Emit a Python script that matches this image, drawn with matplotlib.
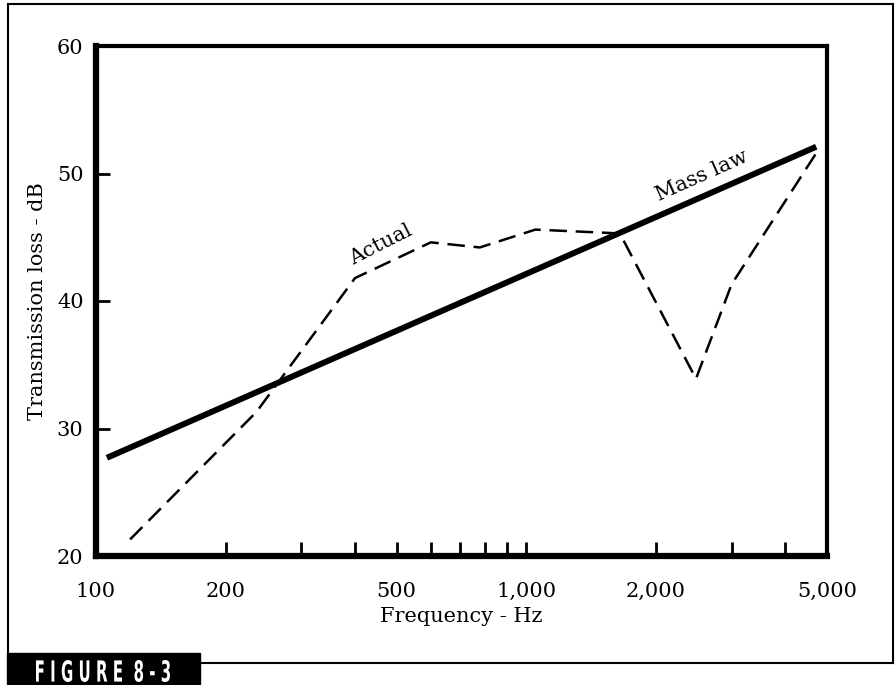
import matplotlib
matplotlib.use("Agg")
import matplotlib.pyplot as plt
from matplotlib.lines import Line2D
from matplotlib.patches import Rectangle, PathPatch
from matplotlib.textpath import TextPath
from matplotlib.font_manager import FontProperties
from matplotlib.transforms import Affine2D, IdentityTransform
from matplotlib.ticker import FixedLocator, NullFormatter

# data
mass_freq = [106, 4720]
mass_tl = [27.7, 52.1]

actual_freq = [120, 236, 400, 600, 780, 1050, 1650, 2480, 3000, 4720]
actual_tl = [21.3, 31.3, 41.8, 44.6, 44.2, 45.6, 45.3, 33.9, 41.3, 51.6]

x_major = [100, 200, 500, 1000, 2000, 5000]
x_labels = ["100", "200", "500", "1,000", "2,000", "5,000"]
x_minor = [300, 400, 600, 700, 800, 900, 3000, 4000]
y_major = [20, 30, 40, 50, 60]

W, H = 896, 685
plt.rcParams['font.family'] = ['DejaVu Serif']
fs = 15

fig = plt.figure(figsize=(W / 100, H / 100), dpi=100)
ax = fig.add_axes([96 / W, 1 - 556 / H, (827 - 96) / W, (556 - 46) / H])

ax.plot(mass_freq, mass_tl, color='black', lw=4.3, solid_capstyle='butt')
ax.plot(actual_freq, actual_tl, color='black', lw=1.8, dashes=(7, 3.5))

ax.set_xscale('log')
ax.set_xlim(100, 5000)
ax.set_ylim(20, 60)

ax.xaxis.set_major_locator(FixedLocator(x_major))
ax.set_xticklabels(x_labels)
ax.xaxis.set_minor_locator(FixedLocator(x_minor))
ax.xaxis.set_minor_formatter(NullFormatter())
ax.set_yticks(y_major)

ax.tick_params(axis='both', which='both', direction='in', length=10, width=2,
               labelsize=fs, top=False, right=False)
ax.tick_params(axis='x', pad=19)
ax.tick_params(axis='y', pad=9)

for side in ['left', 'bottom']:
    ax.spines[side].set_linewidth(4.5)
for side in ['top', 'right']:
    ax.spines[side].set_linewidth(3)

ax.set_xlabel('Frequency - Hz', fontsize=fs, labelpad=4)
ax.set_ylabel('Transmission loss - dB', fontsize=fs, labelpad=7)

# curve labels
ax.text(460, 44.4, 'Actual', fontsize=fs, rotation=27, ha='center', va='center')
ax.text(2560, 49.8, 'Mass law', fontsize=fs, rotation=24, ha='center', va='center')

# outer frame and caption box
def fig_line(x0, y0, x1, y1):
    fig.add_artist(Line2D([x0 / W, x1 / W], [1 - y0 / H, 1 - y1 / H],
                          color='black', lw=1.5, transform=fig.transFigure))

fig_line(8, 4, 893, 4)
fig_line(8, 4, 8, 653)
fig_line(893, 4, 893, 663)
fig_line(200, 663, 893, 663)

fig.add_artist(Rectangle((7 / W, 0), 193 / W, 32 / H, color='black',
                         transform=fig.transFigure))

# condensed caption: squeeze a bold text path into the box
tp = TextPath((0, 0), 'F I G U R E  8 - 3', size=30,
              prop=FontProperties(family='DejaVu Sans', weight='bold'))
ext = tp.get_extents()
sx = (170 - 36) / ext.width
sy = 22 / ext.height
tr = (Affine2D().translate(-ext.x0, -ext.y0).scale(sx, sy)
      .translate(36, H - 682))
cap = PathPatch(tr.transform_path(tp), facecolor='white', edgecolor='none',
                transform=IdentityTransform())
fig.add_artist(cap)

fig.savefig('out.png', dpi=100)
